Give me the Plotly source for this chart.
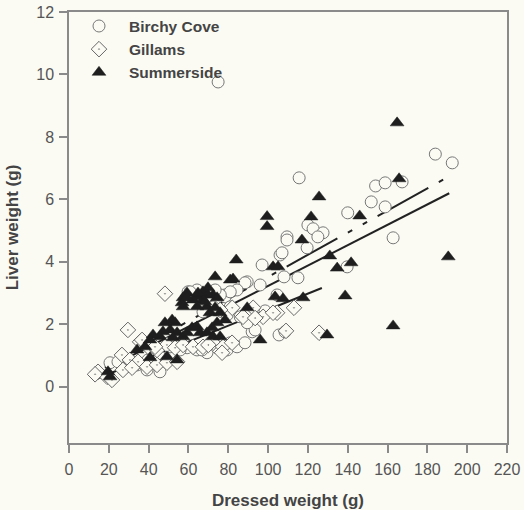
import plotly.graph_objects as go

# ---------------- data ----------------
birchy_x = [74.9, 184, 192.5, 115.6, 154, 158.8, 167.3, 151.8, 158.8, 140,
            120, 122.6, 127.6, 125, 109.5, 109.5, 119.6, 162.8,
            106, 107, 97, 139.7, 115, 108, 96, 104.5, 98.5,
            105.5, 108.5, 92,
            89.5, 88.4, 84.4, 78.4, 64.3, 59.8, 78.4, 72.4, 67.3, 81,
            59.3, 64.3, 69.3, 74.4, 79.4, 84.4, 88.4,
            20.6, 24.6, 29.1, 34.2, 39.2, 45.7,
            81, 76, 60.8, 69.3, 73.4, 79.4, 86, 93.5, 89.5, 71, 81, 66.8,
            55.8, 50.8, 30.6, 39.7, 45.7]
birchy_y = [9.76, 7.45, 7.17, 6.69, 6.43, 6.53, 6.56, 5.92, 5.76, 5.57,
            5.18, 5.06, 4.93, 4.8, 4.8, 4.7, 4.45, 4.77,
            4.22, 4.29, 3.9, 3.84, 3.49, 3.52, 3.26, 2.94, 2.43,
            1.66, 1.76, 1.76,
            3.36, 3.33, 3.1, 2.94, 3.1, 3.04, 2.88, 2.56, 2.4, 2.56,
            1.25, 1.18, 1.09, 1.25, 1.18, 1.28, 1.41,
            0.77, 0.8, 0.64, 0.7, 0.54, 0.48,
            3.04, 2.94, 3.04, 2.88, 3.1, 2.3, 2.24, 1.82, 2.05, 1.41, 1.41, 1.18,
            1.18, 1.28, 0.77, 0.86, 0.96]

gillams_x = [113, 104.5, 109, 125.6, 48.2, 87.4, 92.5, 97.5, 102.5, 82, 75.9,
             29.6, 35.7, 39.7, 44.2, 49.2, 53.3, 57.3, 62.3, 67.3, 72.4, 77.4, 81.9, 76.9,
             26.6, 30.6, 34.7, 39.2, 44.2, 49.2, 54.3,
             14.6, 19.1, 21.6, 27.1, 31.7, 13.1, 36.7, 43.2, 93.5, 70]
gillams_y = [2.53, 2.37, 1.79, 1.73, 2.98, 2.24, 2.53, 2.24, 2.37, 2.53, 2.46,
             1.82, 1.44, 1.28, 1.18, 1.34, 1.25, 1.34, 1.28, 1.28, 1.41, 1.28, 1.41, 1.09,
             1.02, 0.86, 0.8, 0.64, 0.7, 0.77, 0.8,
             0.48, 0.32, 0.22, 0.54, 0.61, 0.4, 1.5, 1.28, 2.2, 1.34]

summer_x = [164.8, 165.8, 125.6, 146, 121.6, 99.5, 99.5, 117, 190.5, 131, 102.5, 105,
            134.7, 141.7, 103.5, 107.5, 117.6, 138.7, 96, 129.6, 162.8,
            84, 73.4, 81, 82.4, 69.8, 67.3, 59.3, 57.3, 64.8, 62.3, 72.4, 74.4, 89.5,
            67.3, 69.3, 70.8, 73.4, 75.9, 78.4, 74.4, 71.9,
            53.3, 48.2, 50.8, 47.2, 54.3, 45.7, 52.3, 57.3, 59.3, 61.8, 64.3,
            65.8, 69.3, 72.4, 75.9,
            42.2, 40.7, 38.2, 34.2, 40.7, 49.2, 54.3,
            19.6, 20.6,
            56.8, 59.3, 64.8, 69.8, 68.3, 64.3, 57.3, 51.8]
summer_y = [8.45, 6.66, 6.08, 5.47, 5.44, 5.45, 5.13, 4.7, 4.16, 4.19, 3.84, 3.84,
            3.8, 3.97, 2.88, 2.82, 2.85, 2.91, 1.5, 1.66, 1.95,
            4.06, 3.52, 3.42, 3.45, 3.17, 3.04, 3.0, 2.85, 2.88, 2.78, 2.94, 2.85, 2.53,
            2.78, 2.56, 2.37, 2.53, 2.37, 2.14, 2.05, 1.89,
            2.05, 2.05, 1.82, 1.76, 1.73, 1.6, 1.57, 1.6, 1.73, 1.89, 1.92,
            1.73, 1.73, 1.6, 1.6,
            1.66, 1.5, 1.28, 1.18, 0.93, 0.96, 0.86,
            0.48, 0.32,
            2.69, 2.85, 3.0, 2.94, 2.72, 2.56, 2.56, 2.14]

# regression lines: slope, intercept, x-range
fit_slopes = [0.0326, 0.0354, 0.0257]
fit_intercepts = [-0.03, -0.02, -0.10]
fit_xmin = [20, 18, 13]
fit_xmax = [191, 189, 127]
fit_dash = ["solid", "58px,12px,5px,12px,5px,12px", "solid"]

x_ticks = list(range(0, 221, 20))
y_ticks = list(range(0, 13, 2))

BG = "#fbfbf4"
AX = "#8a8a8a"
FONT = "Arial, Liberation Sans, sans-serif"

fig = go.Figure()

for s, b, x0, x1, d in zip(fit_slopes, fit_intercepts, fit_xmin, fit_xmax, fit_dash):
    fig.add_trace(go.Scatter(x=[x0, x1], y=[s * x0 + b, s * x1 + b], mode="lines",
                             line=dict(color="#222222", width=2, dash=d),
                             showlegend=False, hoverinfo="skip"))

fig.add_trace(go.Scatter(x=birchy_x, y=birchy_y, mode="markers", name="Birchy Cove",
                         marker=dict(symbol="circle", size=12, color=BG,
                                     line=dict(color="#777777", width=1))))
fig.add_trace(go.Scatter(x=gillams_x, y=gillams_y, mode="markers", name="Gillams",
                         marker=dict(symbol="diamond-dot", size=12, color=BG,
                                     line=dict(color="#666666", width=1))))
fig.add_trace(go.Scatter(x=summer_x, y=summer_y, mode="markers", name="Summerside",
                         marker=dict(symbol="triangle-up", size=12, color="#1e1e1e",
                                     line=dict(color="#1e1e1e", width=0.5))))

fig.update_layout(
    width=524, height=510,
    margin=dict(l=69, r=17, t=12, b=67, autoexpand=False),
    paper_bgcolor=BG, plot_bgcolor=BG,
    font=dict(family=FONT, size=16, color="#555555"),
    legend=dict(x=0.0, y=1.006, xanchor="left", yanchor="top",
                bgcolor="rgba(0,0,0,0)", itemwidth=50,
                font=dict(family=FONT, size=15.5, color="#444444", weight="bold"),
                tracegroupgap=0),
    xaxis=dict(range=[0, 220], tickvals=x_ticks, showgrid=False, zeroline=False,
               automargin=False,
               showline=True, mirror=True, linecolor=AX, linewidth=1.5,
               ticks="outside", ticklen=8, tickcolor=AX, tickwidth=1.5,
               ticklabelstandoff=3,
               tickfont=dict(size=16, color="#555555"),
               title=dict(text="<b>Dressed weight (g)</b>", standoff=22,
                          font=dict(size=17, color="#444444"))),
    yaxis=dict(range=[-1.8, 12], tickvals=y_ticks, showgrid=False, zeroline=False,
               automargin=False,
               showline=True, mirror=True, linecolor=AX, linewidth=1.5,
               ticks="outside", ticklen=8, tickcolor=AX, tickwidth=1.5,
               ticklabelstandoff=2,
               tickfont=dict(size=16, color="#555555"),
               title=dict(text="<b>Liver weight (g)</b>", standoff=13,
                          font=dict(size=17, color="#444444"))),
)

fig.write_html("out.html",
               config={"displayModeBar": False},
               post_script="document.body.style.margin='0px';"
                           "document.body.style.background='#fbfbf4';")
